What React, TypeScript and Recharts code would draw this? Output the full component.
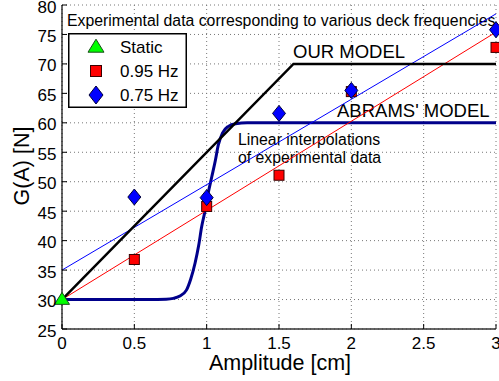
import React from 'react';
import { ComposedChart, Line, Scatter, XAxis, YAxis, CartesianGrid, Legend, Customized } from 'recharts';

const xTicks = [0, 0.5, 1, 1.5, 2, 2.5, 3];
const yTicks = [25, 30, 35, 40, 45, 50, 55, 60, 65, 70, 75, 80];

const staticX = [0];
const staticY = [30];
const hz095X = [0.5, 1, 1.5, 2, 3];
const hz095Y = [36.8, 45.8, 51.1, 65.3, 72.8];
const hz075X = [0.5, 1, 1.5, 2, 3];
const hz075Y = [47.4, 47.3, 61.6, 65.5, 75.8];

const fit095X = [0, 3];
const fit095Y = [30, 75.4];
const fit075X = [0, 3];
const fit075Y = [35, 78.5];

const ourModelX = [0, 1.6, 3];
const ourModelY = [30, 70, 70];

const abramsX = [0, 0.6, 0.72, 0.77, 0.815, 0.86, 0.89, 0.92, 0.945, 0.965, 0.99, 1.01, 1.035, 1.06, 1.08, 1.11, 1.15, 1.2, 1.28, 3];
const abramsY = [30, 30, 30.05, 30.2, 30.6, 31.6, 33.5, 36.2, 39.2, 42.3, 45.2, 48, 50.8, 53.6, 56.2, 58.3, 59.4, 59.85, 60, 60];

const rows = (xs: number[], ys: number[]) => xs.map((x, i) => ({ x, y: ys[i] }));

const FONT = '"Liberation Sans", Arial, Helvetica, sans-serif';

const triPath = (cx: number, cy: number, w: number, h: number) =>
  `M${cx},${cy - h * 0.6} L${cx + w / 2},${cy + h * 0.4} L${cx - w / 2},${cy + h * 0.4} Z`;
const diaPath = (cx: number, cy: number, w: number, h: number) =>
  `M${cx},${cy - h / 2} L${cx + w / 2},${cy} L${cx},${cy + h / 2} L${cx - w / 2},${cy} Z`;

const TriShape = (p: any) => (
  <path d={triPath(p.cx, p.cy, 15, 12)} fill="#00ff00" stroke="#1a4d1a" strokeWidth={1} />
);
const SquareShape = (p: any) => (
  <rect x={p.cx - 5} y={p.cy - 5} width={10} height={10} fill="#ff0000" stroke="#3a0000" strokeWidth={1} />
);
const DiamondShape = (p: any) => (
  <path d={diaPath(p.cx, p.cy, 13, 16)} fill="#0000ff" stroke="#00003a" strokeWidth={1} />
);

const LegendBox = () => (
  <svg width={119} height={75} style={{ display: 'block' }}>
    <rect x={0.75} y={0.75} width={117.5} height={73.5} fill="#fff" stroke="#000" strokeWidth={1.5} />
    <path d={triPath(28, 14, 16, 13)} fill="#00ff00" stroke="#1a4d1a" strokeWidth={1} />
    <rect x={22.5} y={32.5} width={11} height={11} fill="#ff0000" stroke="#3a0000" strokeWidth={1} />
    <path d={diaPath(28, 62, 14, 18)} fill="#0000ff" stroke="#00003a" strokeWidth={1} />
    <g fontFamily={FONT} fontSize={17} fill="#000">
      <text x={52} y={20}>Static</text>
      <text x={52} y={44}>0.95 Hz</text>
      <text x={52} y={68}>0.75 Hz</text>
    </g>
  </svg>
);

const Annotations = () => (
  <g fontFamily={FONT} fill="#000">
    <text x={67} y={26} fontSize={15.8}>Experimental data corresponding to various deck frequencies</text>
    <text x={293} y={58} fontSize={18.5}>OUR MODEL</text>
    <text x={337} y={117} fontSize={18.5}>ABRAMS' MODEL</text>
    <text x={238} y={145} fontSize={15.8}>Linear interpolations</text>
    <text x={238} y={163} fontSize={15.8}>of experimental data</text>
    <text
      x={22}
      y={166}
      fontSize={21.5}
      textAnchor="middle"
      dominantBaseline="central"
      transform="rotate(-90, 22, 166)"
    >
      G(A) [N]
    </text>
    <text x={280} y={369.5} fontSize={21.5} textAnchor="middle">Amplitude [cm]</text>
  </g>
);

const XTick = (p: any) => (
  <text x={p.payload.coordinate} y={349} textAnchor="middle" fontFamily={FONT} fontSize={17} fill="#000">
    {String(p.payload.value)}
  </text>
);
const YTick = (p: any) => (
  <text x={56.5} y={p.payload.coordinate + 7.5} textAnchor="end" fontFamily={FONT} fontSize={17} fill="#000">
    {String(p.payload.value)}
  </text>
);

export default function App() {
  return (
    <div style={{ position: 'absolute', left: 0, top: 0, width: 499, height: 381, background: '#fff' }}>
      <ComposedChart width={499} height={381} margin={{ top: 5, right: 3, bottom: 0, left: 0 }}>
        <CartesianGrid stroke="#777" strokeDasharray="1 3" strokeWidth={1} />
        <XAxis
          type="number"
          dataKey="x"
          domain={[0, 3]}
          ticks={xTicks}
          interval={0}
          height={52}
          tickSize={-5}
          tickMargin={14}
          tick={XTick}
          axisLine={{ stroke: '#333', strokeWidth: 1.5 }}
          tickLine={{ stroke: '#000' }}
        />
        <YAxis
          type="number"
          dataKey="y"
          domain={[25, 80]}
          ticks={yTicks}
          interval={0}
          width={62}
          tickSize={-5}
          tickMargin={11}
          tick={YTick}
          axisLine={{ stroke: '#000', strokeWidth: 1.2 }}
          tickLine={{ stroke: '#000' }}
        />
        <Line data={rows(abramsX, abramsY)} dataKey="y" type="monotone" stroke="#00008b" strokeWidth={3} dot={false} activeDot={false} isAnimationActive={false} />
        <Scatter data={rows(staticX, staticY)} dataKey="y" shape={TriShape} isAnimationActive={false} />
        <Line data={rows(fit075X, fit075Y)} dataKey="y" type="linear" stroke="#0000ff" strokeWidth={1} dot={false} activeDot={false} isAnimationActive={false} />
        <Line data={rows(fit095X, fit095Y)} dataKey="y" type="linear" stroke="#ff0000" strokeWidth={1} dot={false} activeDot={false} isAnimationActive={false} />
        <Line data={rows(ourModelX, ourModelY)} dataKey="y" type="linear" stroke="#000" strokeWidth={2.5} dot={false} activeDot={false} isAnimationActive={false} />
        <Scatter data={rows(hz095X, hz095Y)} dataKey="y" shape={SquareShape} isAnimationActive={false} />
        <Scatter data={rows(hz075X, hz075Y)} dataKey="y" shape={DiamondShape} isAnimationActive={false} />
        <Customized component={Annotations} />
        <Legend
          layout="vertical"
          align="center"
          verticalAlign="middle"
          content={() => <LegendBox />}
          wrapperStyle={{ position: 'absolute', left: 68, top: 33, width: 119, height: 75 }}
        />
      </ComposedChart>
    </div>
  );
}
